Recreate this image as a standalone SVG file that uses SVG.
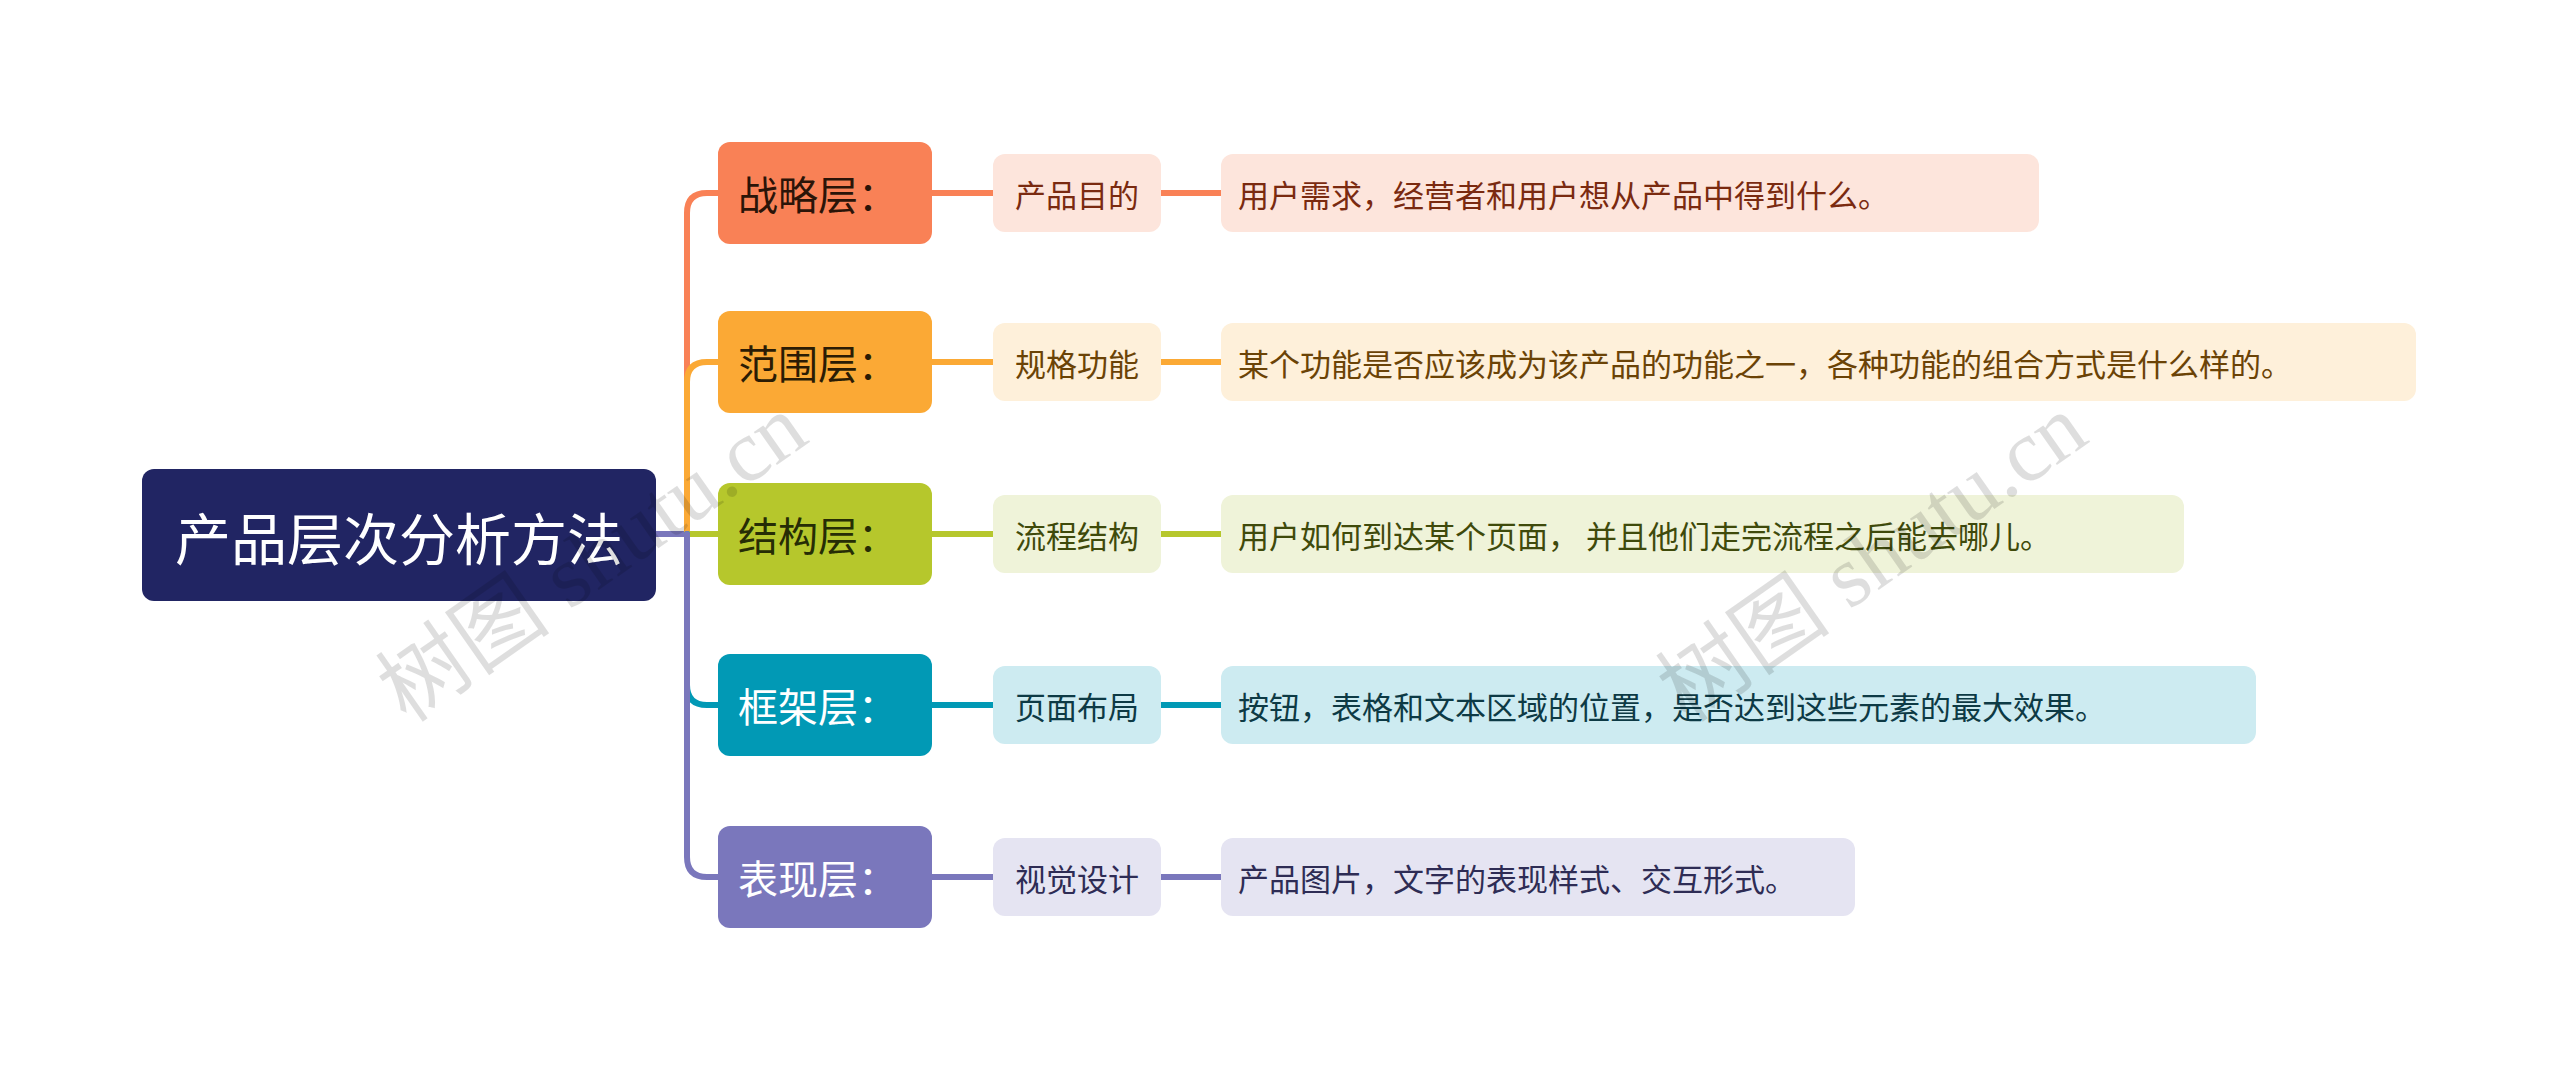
<svg xmlns="http://www.w3.org/2000/svg" width="2560" height="1069" viewBox="0 0 2560 1069">
<style>
text{font-family:"Noto Sans CJK SC","Noto Sans",sans-serif;dominant-baseline:central}
.l1{font-size:40px}
.l2{font-size:31px}
.c{fill:none;stroke-width:6;stroke-linecap:round}
.wm{font-size:88px;fill:#000;fill-opacity:0.13;font-family:"Liberation Serif","Noto Sans CJK SC",serif}
</style>
<rect width="2560" height="1069" fill="#fff"/>
<g id="connectors">
<path class="c" stroke="#7A77BC" d="M656,534 H687"/>
<path class="c" stroke="#F98156" d="M687,534 V213 Q687,193 707,193 H718 M932,193 H993 M1161,193 H1221"/>
<path class="c" stroke="#FBA935" d="M687,534 V382 Q687,362 707,362 H718 M932,362 H993 M1161,362 H1221"/>
<path class="c" stroke="#B6C72C" d="M687,534 H718 M932,534 H993 M1161,534 H1221"/>
<path class="c" stroke="#0199B5" d="M687,534 V685 Q687,705 707,705 H718 M932,705 H993 M1161,705 H1221"/>
<path class="c" stroke="#7A77BC" d="M687,534 V857 Q687,877 707,877 H718 M932,877 H993 M1161,877 H1221"/>
</g>
<g id="root"><rect x="142" y="469" width="514" height="132" rx="12" fill="#212563"/><text x="399" y="535" text-anchor="middle" font-size="56" fill="#fff">产品层次分析方法</text></g>
<g id="n1"><rect x="718" y="142" width="214" height="102" rx="12" fill="#F98156"/><text class="l1" x="738" y="193" fill="#2b1408">战略层：</text></g>
<g id="n1a"><rect x="993" y="154" width="168" height="78" rx="12" fill="#FDE5DC"/><text class="l2" x="1077" y="193" text-anchor="middle" fill="#7A2A10">产品目的</text></g>
<g id="n1b"><rect x="1221" y="154" width="818" height="78" rx="12" fill="#FDE5DC"/><text class="l2" x="1238" y="193" fill="#7A2A10">用户需求，经营者和用户想从产品中得到什么。</text></g>
<g id="n2"><rect x="718" y="311" width="214" height="102" rx="12" fill="#FBA935"/><text class="l1" x="738" y="362" fill="#2b1c04">范围层：</text></g>
<g id="n2a"><rect x="993" y="323" width="168" height="78" rx="12" fill="#FEF0DA"/><text class="l2" x="1077" y="362" text-anchor="middle" fill="#6B4306">规格功能</text></g>
<g id="n2b"><rect x="1221" y="323" width="1195" height="78" rx="12" fill="#FEF0DA"/><text class="l2" x="1238" y="362" fill="#6B4306">某个功能是否应该成为该产品的功能之一，各种功能的组合方式是什么样的。</text></g>
<g id="n3"><rect x="718" y="483" width="214" height="102" rx="12" fill="#B6C72C"/><text class="l1" x="738" y="534" fill="#262d05">结构层：</text></g>
<g id="n3a"><rect x="993" y="495" width="168" height="78" rx="12" fill="#EFF3D9"/><text class="l2" x="1077" y="534" text-anchor="middle" fill="#3F4A0B">流程结构</text></g>
<g id="n3b"><rect x="1221" y="495" width="963" height="78" rx="12" fill="#EFF3D9"/><text class="l2" x="1238" y="534" fill="#3F4A0B">用户如何到达某个页面， 并且他们走完流程之后能去哪儿。</text></g>
<g id="n4"><rect x="718" y="654" width="214" height="102" rx="12" fill="#0199B5"/><text class="l1" x="738" y="705" fill="#fff">框架层：</text></g>
<g id="n4a"><rect x="993" y="666" width="168" height="78" rx="12" fill="#CDEBF1"/><text class="l2" x="1077" y="705" text-anchor="middle" fill="#0D3A45">页面布局</text></g>
<g id="n4b"><rect x="1221" y="666" width="1035" height="78" rx="12" fill="#CDEBF1"/><text class="l2" x="1238" y="705" fill="#0D3A45">按钮，表格和文本区域的位置，是否达到这些元素的最大效果。</text></g>
<g id="n5"><rect x="718" y="826" width="214" height="102" rx="12" fill="#7A77BC"/><text class="l1" x="738" y="877" fill="#fff">表现层：</text></g>
<g id="n5a"><rect x="993" y="838" width="168" height="78" rx="12" fill="#E5E4F2"/><text class="l2" x="1077" y="877" text-anchor="middle" fill="#2E2C55">视觉设计</text></g>
<g id="n5b"><rect x="1221" y="838" width="634" height="78" rx="12" fill="#E5E4F2"/><text class="l2" x="1238" y="877" fill="#2E2C55">产品图片，文字的表现样式、交互形式。</text></g>
<text class="wm" transform="translate(390,700) rotate(-35)">树图 shutu.cn</text>
<text class="wm" transform="translate(1670,700) rotate(-35)">树图 shutu.cn</text>
</svg>
